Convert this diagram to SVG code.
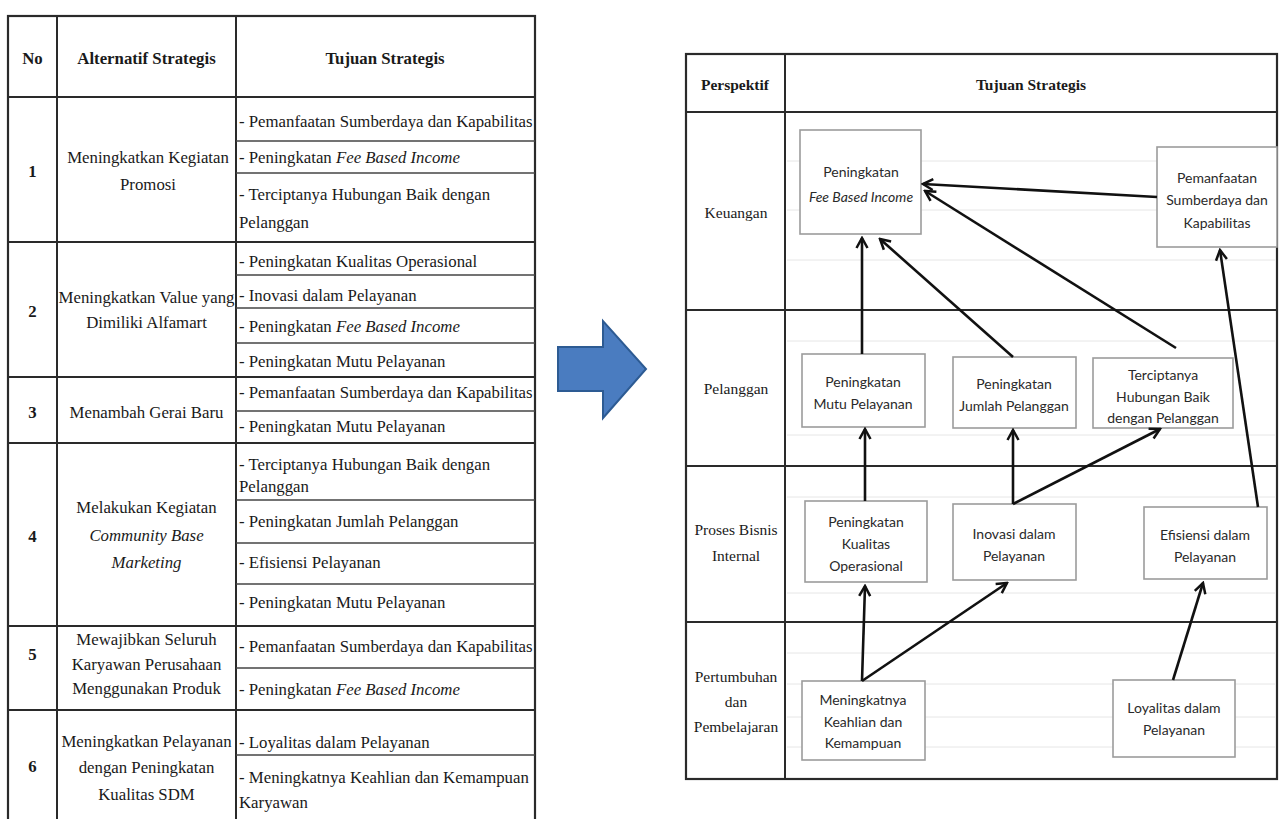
<svg xmlns="http://www.w3.org/2000/svg" width="1285" height="819" viewBox="0 0 1285 819">
<defs>
<style>
.tb{fill:none;stroke:#2a2a2a;stroke-width:2.2}
.ln{stroke:#2a2a2a;stroke-width:2}
.sl{stroke:#444;stroke-width:1.6}
.faint{stroke:#e6e6e6;stroke-width:1}
.s{font-family:"Liberation Serif","Times New Roman",serif;font-size:16.8px;fill:#1a1a1a}
.sr{font-family:"Liberation Serif","Times New Roman",serif;font-size:15.5px;fill:#1a1a1a;text-anchor:middle}
.b{font-weight:bold}
.c{text-anchor:middle}
.i{font-style:italic}
.box{fill:#fff;stroke:#9c9c9c;stroke-width:1.6}
.bt{font-family:Lato,"Liberation Sans",sans-serif;font-size:14px;fill:#2a2a2a;text-anchor:middle}
.con{stroke:#111;stroke-width:2.6;fill:none;marker-end:url(#ah)}
</style>
<marker id="ah" viewBox="0 0 14 14" refX="12" refY="7" markerWidth="14" markerHeight="14" markerUnits="userSpaceOnUse" orient="auto">
<path d="M2,1.5 L12,7 L2,12.5" fill="none" stroke="#111" stroke-width="2.5"/>
</marker>
</defs>
<rect width="1285" height="819" fill="#fff"/>

<!-- Left table -->
<g id="left-table">
<rect class="tb" x="8" y="16" width="527" height="830"/>
<line class="ln" x1="57" y1="16" x2="57" y2="819"/>
<line class="ln" x1="236" y1="16" x2="236" y2="819"/>
<line class="ln" x1="8" y1="97" x2="535" y2="97"/>
<line class="ln" x1="8" y1="242" x2="535" y2="242"/>
<line class="ln" x1="8" y1="377" x2="535" y2="377"/>
<line class="ln" x1="8" y1="443" x2="535" y2="443"/>
<line class="ln" x1="8" y1="626" x2="535" y2="626"/>
<line class="ln" x1="8" y1="710" x2="535" y2="710"/>
<g class="sl">
<line x1="236" y1="141" x2="535" y2="141"/>
<line x1="236" y1="173" x2="535" y2="173"/>
<line x1="236" y1="275" x2="535" y2="275"/>
<line x1="236" y1="308" x2="535" y2="308"/>
<line x1="236" y1="343" x2="535" y2="343"/>
<line x1="236" y1="411" x2="535" y2="411"/>
<line x1="236" y1="500" x2="535" y2="500"/>
<line x1="236" y1="543" x2="535" y2="543"/>
<line x1="236" y1="584" x2="535" y2="584"/>
<line x1="236" y1="668" x2="535" y2="668"/>
<line x1="236" y1="755" x2="535" y2="755"/>
</g>
<text class="s b c" x="32.5" y="64">No</text>
<text class="s b c" x="146.5" y="64">Alternatif Strategis</text>
<text class="s b c" x="385" y="64">Tujuan Strategis</text>

<text class="s b c" x="32.5" y="177">1</text>
<text class="s c" x="148" y="163">Meningkatkan Kegiatan</text>
<text class="s c" x="148" y="190">Promosi</text>
<text class="s" x="239" y="127">- Pemanfaatan Sumberdaya dan Kapabilitas</text>
<text class="s" x="239" y="163">- Peningkatan <tspan class="i">Fee Based Income</tspan></text>
<text class="s" x="239" y="200">- Terciptanya Hubungan Baik dengan</text>
<text class="s" x="239" y="228">Pelanggan</text>

<text class="s b c" x="32.5" y="317">2</text>
<text class="s c" x="146.5" y="303">Meningkatkan Value yang</text>
<text class="s c" x="146.5" y="328">Dimiliki Alfamart</text>
<text class="s" x="239" y="267">- Peningkatan Kualitas Operasional</text>
<text class="s" x="239" y="301">- Inovasi dalam Pelayanan</text>
<text class="s" x="239" y="332">- Peningkatan <tspan class="i">Fee Based Income</tspan></text>
<text class="s" x="239" y="367">- Peningkatan Mutu Pelayanan</text>

<text class="s b c" x="32.5" y="418">3</text>
<text class="s c" x="146.5" y="418">Menambah Gerai Baru</text>
<text class="s" x="239" y="398">- Pemanfaatan Sumberdaya dan Kapabilitas</text>
<text class="s" x="239" y="432">- Peningkatan Mutu Pelayanan</text>

<text class="s b c" x="32.5" y="542">4</text>
<text class="s c" x="146.5" y="513">Melakukan Kegiatan</text>
<text class="s c i" x="146.5" y="541">Community Base</text>
<text class="s c i" x="146.5" y="568">Marketing</text>
<text class="s" x="239" y="470">- Terciptanya Hubungan Baik dengan</text>
<text class="s" x="239" y="492">Pelanggan</text>
<text class="s" x="239" y="527">- Peningkatan Jumlah Pelanggan</text>
<text class="s" x="239" y="568">- Efisiensi Pelayanan</text>
<text class="s" x="239" y="608">- Peningkatan Mutu Pelayanan</text>

<text class="s b c" x="32.5" y="660">5</text>
<text class="s c" x="146.5" y="645">Mewajibkan Seluruh</text>
<text class="s c" x="146.5" y="670">Karyawan Perusahaan</text>
<text class="s c" x="146.5" y="694">Menggunakan Produk</text>
<text class="s" x="239" y="652">- Pemanfaatan Sumberdaya dan Kapabilitas</text>
<text class="s" x="239" y="695">- Peningkatan <tspan class="i">Fee Based Income</tspan></text>

<text class="s b c" x="32.5" y="772">6</text>
<text class="s c" x="146.5" y="747">Meningkatkan Pelayanan</text>
<text class="s c" x="146.5" y="773">dengan Peningkatan</text>
<text class="s c" x="146.5" y="800">Kualitas SDM</text>
<text class="s" x="239" y="748">- Loyalitas dalam Pelayanan</text>
<text class="s" x="239" y="783">- Meningkatnya Keahlian dan Kemampuan</text>
<text class="s" x="239" y="808">Karyawan</text>
</g>

<!-- Big blue arrow -->
<g id="blue-arrow">
<path d="M558,347 L603,347 L603,321 L646,369 L603,418 L603,391 L558,391 Z" fill="#4a7cc0" stroke="#2d5b93" stroke-width="2" stroke-linejoin="miter"/>
</g>

<!-- Right table frame -->
<g id="right-table">
<g class="faint">
<line x1="787" y1="161" x2="1275" y2="161"/>
<line x1="787" y1="210" x2="1275" y2="210"/>
<line x1="787" y1="260" x2="1275" y2="260"/>
<line x1="787" y1="341" x2="1275" y2="341"/>
<line x1="787" y1="435" x2="1275" y2="435"/>
<line x1="787" y1="497" x2="1275" y2="497"/>
<line x1="787" y1="593" x2="1275" y2="593"/>
<line x1="787" y1="653" x2="1275" y2="653"/>
<line x1="787" y1="684" x2="1275" y2="684"/>
<line x1="787" y1="717" x2="1275" y2="717"/>
<line x1="787" y1="747" x2="1275" y2="747"/>
</g>
<rect class="tb" x="686" y="54" width="591" height="725"/>
<line class="ln" x1="785" y1="54" x2="785" y2="779"/>
<line class="ln" x1="686" y1="112" x2="1277" y2="112"/>
<line class="ln" x1="686" y1="310" x2="1277" y2="310"/>
<line class="ln" x1="686" y1="466" x2="1277" y2="466"/>
<line class="ln" x1="686" y1="622" x2="1277" y2="622"/>
<text class="sr b" x="735" y="90">Perspektif</text>
<text class="sr b" x="1031" y="90">Tujuan Strategis</text>
<text class="sr" x="736" y="218">Keuangan</text>
<text class="sr" x="736" y="394">Pelanggan</text>
<text class="sr" x="736" y="535">Proses Bisnis</text>
<text class="sr" x="736" y="561">Internal</text>
<text class="sr" x="736" y="682">Pertumbuhan</text>
<text class="sr" x="736" y="707">dan</text>
<text class="sr" x="736" y="732">Pembelajaran</text>
</g>

<!-- Nodes -->
<g id="n-fee">
<rect class="box" x="800" y="130" width="121" height="104"/>
<text class="bt" x="861" y="177">Peningkatan</text>
<text class="bt i" x="861" y="202">Fee Based Income</text>
</g>
<g id="n-pemanfaatan">
<rect class="box" x="1157" y="147" width="120" height="100"/>
<text class="bt" x="1217" y="183">Pemanfaatan</text>
<text class="bt" x="1217" y="205">Sumberdaya dan</text>
<text class="bt" x="1217" y="228">Kapabilitas</text>
</g>
<g id="n-mutu">
<rect class="box" x="802" y="354" width="123" height="73"/>
<text class="bt" x="863" y="387">Peningkatan</text>
<text class="bt" x="863" y="409">Mutu Pelayanan</text>
</g>
<g id="n-jumlah">
<rect class="box" x="953" y="357" width="123" height="71"/>
<text class="bt" x="1014" y="389">Peningkatan</text>
<text class="bt" x="1014" y="411">Jumlah Pelanggan</text>
</g>
<g id="n-hubungan">
<rect class="box" x="1093" y="358" width="140" height="70"/>
<text class="bt" x="1163" y="380">Terciptanya</text>
<text class="bt" x="1163" y="402">Hubungan Baik</text>
<text class="bt" x="1163" y="423">dengan Pelanggan</text>
</g>
<g id="n-kualitas">
<rect class="box" x="805" y="501" width="122" height="81"/>
<text class="bt" x="866" y="527">Peningkatan</text>
<text class="bt" x="866" y="549">Kualitas</text>
<text class="bt" x="866" y="571">Operasional</text>
</g>
<g id="n-inovasi">
<rect class="box" x="953" y="504" width="123" height="76"/>
<text class="bt" x="1014" y="539">Inovasi dalam</text>
<text class="bt" x="1014" y="561">Pelayanan</text>
</g>
<g id="n-efisiensi">
<rect class="box" x="1144" y="507" width="123" height="72"/>
<text class="bt" x="1205" y="540">Efisiensi dalam</text>
<text class="bt" x="1205" y="562">Pelayanan</text>
</g>
<g id="n-keahlian">
<rect class="box" x="802" y="681" width="123" height="79"/>
<text class="bt" x="863" y="705">Meningkatnya</text>
<text class="bt" x="863" y="727">Keahlian dan</text>
<text class="bt" x="863" y="748">Kemampuan</text>
</g>
<g id="n-loyalitas">
<rect class="box" x="1113" y="680" width="122" height="77"/>
<text class="bt" x="1174" y="713">Loyalitas dalam</text>
<text class="bt" x="1174" y="735">Pelayanan</text>
</g>

<!-- Connectors -->
<g id="connectors">
<path class="con" d="M1157,197 L923,184"/>
<path class="con" d="M862,354 L862,238"/>
<path class="con" d="M1013,357 L880,239"/>
<path class="con" d="M1176,348 L925,191"/>
<path class="con" d="M1258,507 L1220,250"/>
<path class="con" d="M865,501 L865,429"/>
<path class="con" d="M1013,504 L1013,430"/>
<path class="con" d="M1013,504 L1160,429"/>
<path class="con" d="M862,681 L865,586"/>
<path class="con" d="M862,681 L1007,583"/>
<path class="con" d="M1173,680 L1203,583"/>
</g>
</svg>
